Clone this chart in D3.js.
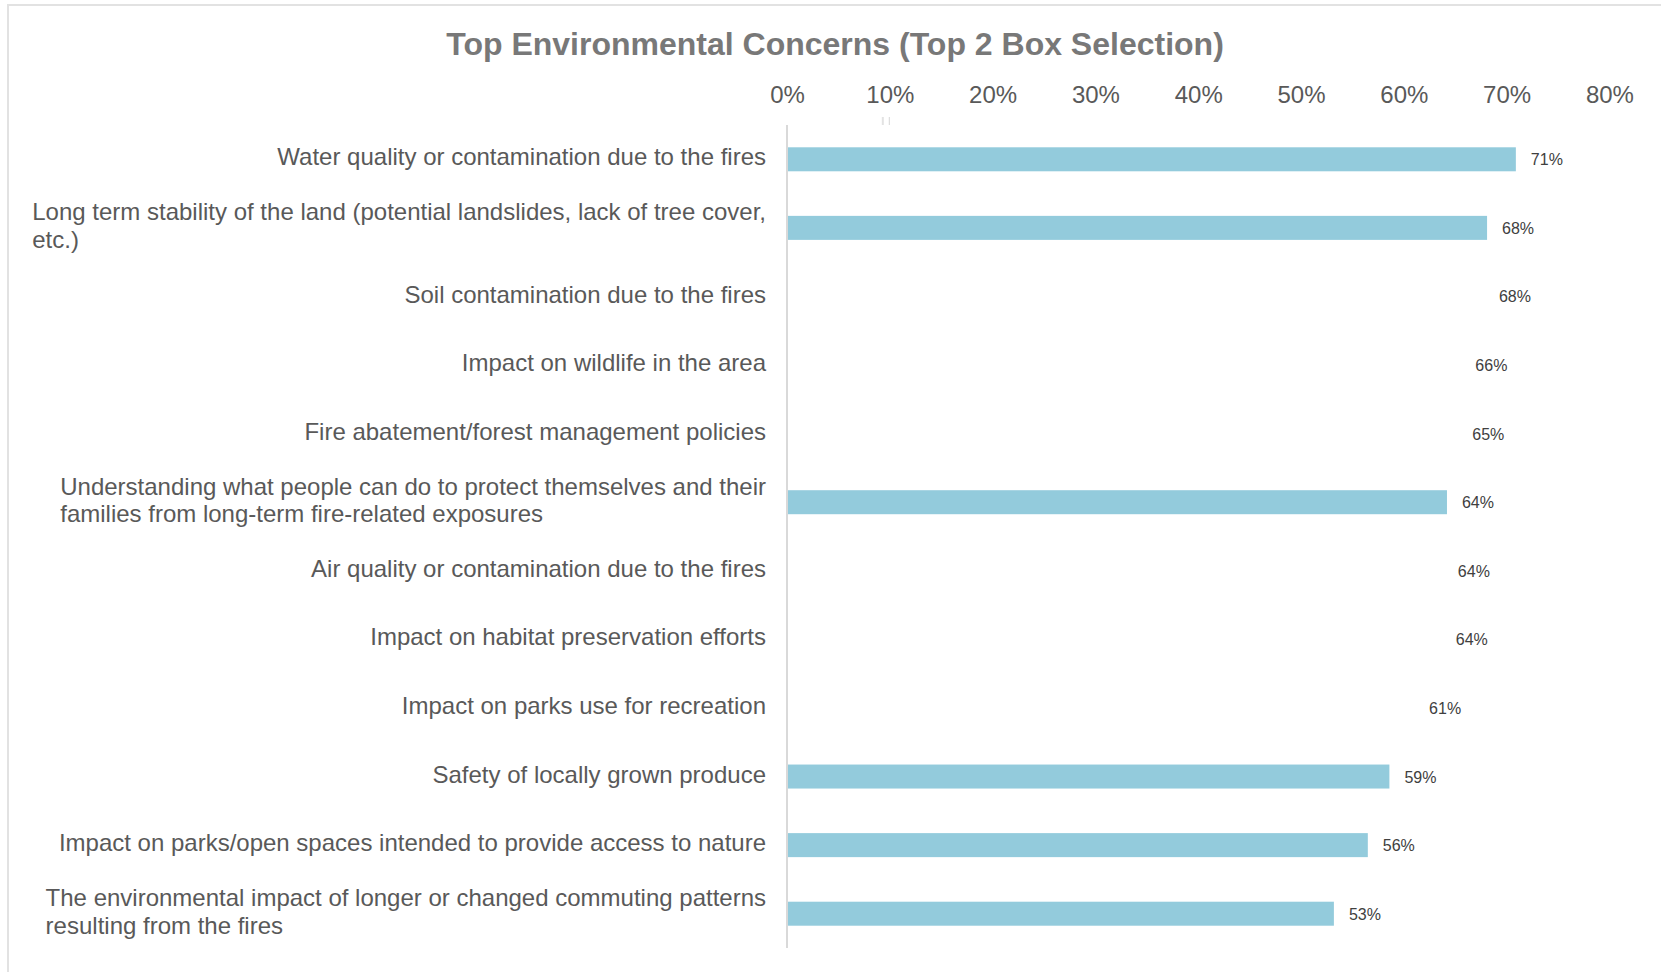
<!DOCTYPE html>
<html>
<head>
<meta charset="utf-8">
<script src="https://cdn.jsdelivr.net/npm/d3@7"></script>
<style>
  html, body { margin: 0; padding: 0; background: #ffffff; }
  svg { display: block; }
  text { font-family: "Liberation Sans", Arial, sans-serif; }
</style>
</head>
<body>
<svg id="chart" width="1661" height="972"></svg>
<script>
// ---- data ----
const title = "Top Environmental Concerns (Top 2 Box Selection)";
const categories = [
  "Water quality or contamination due to the fires",
  "Long term stability of the land (potential landslides, lack of tree cover,\netc.)",
  "Soil contamination due to the fires",
  "Impact on wildlife in the area",
  "Fire abatement/forest management policies",
  "Understanding what people can do to protect themselves and their\nfamilies from long-term fire-related exposures",
  "Air quality or contamination due to the fires",
  "Impact on habitat preservation efforts",
  "Impact on parks use for recreation",
  "Safety of locally grown produce",
  "Impact on parks/open spaces intended to provide access to nature",
  "The environmental impact of longer or changed commuting patterns\nresulting from the fires"
];
const values = [0.709, 0.681, 0.678, 0.655, 0.652, 0.642, 0.638, 0.636, 0.610, 0.586, 0.565, 0.532];
const valueLabels = ["71%", "68%", "68%", "66%", "65%", "64%", "64%", "64%", "61%", "59%", "56%", "53%"];
const barShown = [true, true, false, false, false, true, false, false, false, true, true, true];
const tickValues = [0, 0.1, 0.2, 0.3, 0.4, 0.5, 0.6, 0.7, 0.8];
const tickLabels = ["0%", "10%", "20%", "30%", "40%", "50%", "60%", "70%", "80%"];

// ---- layout ----
const svg = d3.select("#chart");
const axisX = 787;
const x = d3.scaleLinear().domain([0, 0.8]).range([axisX, axisX + 822.4]);
const y = d3.scaleBand().domain(d3.range(categories.length)).range([125, 948]).paddingInner(0.65).paddingOuter(0.325);

// border
svg.append("rect")
  .attr("x", 8).attr("y", 5).attr("width", 1700).attr("height", 1000)
  .attr("fill", "none").attr("stroke", "#e2e2e2").attr("stroke-width", 2);

// title
svg.append("text")
  .attr("x", 835).attr("y", 55)
  .attr("text-anchor", "middle")
  .attr("font-size", 32).attr("font-weight", "bold")
  .attr("fill", "#787878")
  .text(title);

// top axis labels
const xAxis = d3.axisTop(x).tickValues(tickValues).tickFormat((d, i) => tickLabels[i]).tickSize(0).tickPadding(0);
const gx = svg.append("g").attr("transform", "translate(0,103)").call(xAxis);
gx.select(".domain").remove();
gx.selectAll("text")
  .attr("font-family", "Liberation Sans, Arial, sans-serif")
  .attr("font-size", 24).attr("fill", "#595959").attr("dy", 0);

// small artifact marks near 10%
svg.append("rect").attr("x", x(0.1) - 8).attr("y", 117).attr("width", 2).attr("height", 8).attr("fill", "#e3e3e3");
svg.append("rect").attr("x", x(0.1) - 1).attr("y", 117).attr("width", 1).attr("height", 8).attr("fill", "#d6d6d6");

// bars
svg.append("g").selectAll("rect")
  .data(values)
  .join("rect")
  .attr("x", x(0))
  .attr("y", (d, i) => y(i))
  .attr("width", d => x(d) - x(0))
  .attr("height", y.bandwidth())
  .attr("fill", (d, i) => barShown[i] ? "#93cbdc" : "none");

// vertical axis line
svg.append("line")
  .attr("x1", axisX).attr("x2", axisX)
  .attr("y1", y.range()[0]).attr("y2", y.range()[1])
  .attr("stroke", "#d9d9d9").attr("stroke-width", 2);

// value labels
svg.append("g").selectAll("text")
  .data(values)
  .join("text")
  .attr("x", d => x(d) + 15)
  .attr("y", (d, i) => y(i) + y.bandwidth() / 2 + 6)
  .attr("font-size", 16).attr("fill", "#404040")
  .text((d, i) => valueLabels[i]);

// category labels
const labelRight = 766;
const lineH = 27.5;
const gl = svg.append("g");
categories.forEach((c, i) => {
  const lines = c.split("\n");
  const cy = y(i) + y.bandwidth() / 2 - 2.5;
  const t = gl.append("text").attr("font-size", 24).attr("fill", "#595959");
  lines.forEach((ln, j) => {
    t.append("tspan")
      .attr("y", cy + (j - (lines.length - 1) / 2) * lineH + 0.358 * 24)
      .text(ln);
  });
  // right-align the block, left-align lines within it
  let maxW = 0;
  t.selectAll("tspan").each(function () { maxW = Math.max(maxW, this.getComputedTextLength()); });
  t.selectAll("tspan").attr("x", labelRight - maxW);
});
</script>
</body>
</html>
